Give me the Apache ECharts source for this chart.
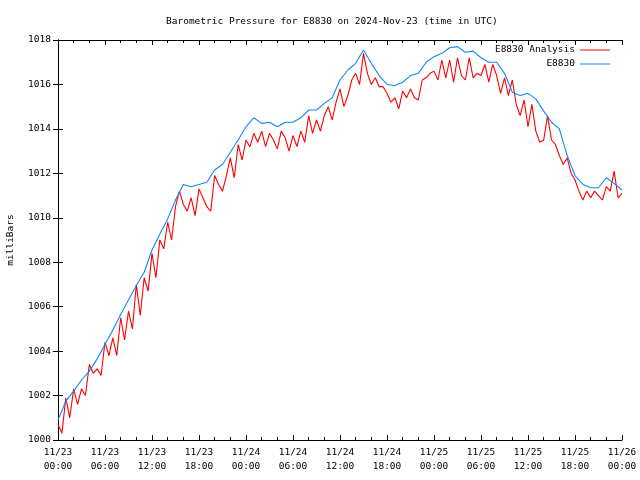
<!DOCTYPE html>
<html>
<head>
<meta charset="utf-8">
<script src="https://cdn.jsdelivr.net/npm/echarts@6/dist/echarts.min.js"></script>
<style>html,body{margin:0;padding:0;background:#fff}#c{width:640px;height:480px}</style>
</head>
<body>
<div id="c"></div>
<script>
// Hours since 2024-11-23 00:00 UTC
const xTickLabels = ['11/23\n00:00','11/23\n06:00','11/23\n12:00','11/23\n18:00','11/24\n00:00','11/24\n06:00','11/24\n12:00','11/24\n18:00','11/25\n00:00','11/25\n06:00','11/25\n12:00','11/25\n18:00','11/26\n00:00'];
const seriesNames = ['E8830 Analysis', 'E8830'];
const seriesColors = ['#ff0000', '#0f87ff'];
// E8830 station pressure, hourly samples (h = 0..72)
const stationHourly = [
 1000.9,1001.75,1002.2,1002.7,1003.1,1003.65,1004.3,1004.95,1005.65,1006.3,
 1006.95,1007.55,1008.55,1009.27,1009.95,1010.8,1011.5,1011.4,1011.5,1011.6,
 1012.15,1012.4,1012.95,1013.5,1014.1,1014.5,1014.25,1014.3,1014.1,1014.3,
 1014.3,1014.5,1014.85,1014.85,1015.15,1015.4,1016.2,1016.65,1016.95,1017.55,
 1016.95,1016.4,1016.0,1015.95,1016.1,1016.4,1016.5,1017.0,1017.25,1017.4,
 1017.65,1017.7,1017.45,1017.5,1017.2,1017.0,1017.0,1016.5,1015.65,1015.5,
 1015.6,1015.35,1014.8,1014.3,1014.0,1012.8,1011.9,1011.5,1011.35,1011.35,
 1011.8,1011.55,1011.25
];
// E8830 Analysis, half-hourly samples (h = 0..72 step 0.5)
const analysisHalfHourly = [
 1000.7,1000.3,1001.9,1001.0,1002.3,1001.6,1002.3,1002.0,1003.4,1003.0,
 1003.2,1002.9,1004.4,1003.8,1004.6,1003.8,1005.5,1004.5,1005.8,1005.0,
 1007.0,1005.6,1007.3,1006.7,1008.4,1007.3,1009.0,1008.6,1009.8,1009.0,
 1010.5,1011.2,1010.6,1010.3,1010.9,1010.1,1011.3,1010.9,1010.5,1010.3,
 1011.9,1011.5,1011.2,1011.9,1012.7,1011.8,1013.3,1012.6,1013.5,1013.2,
 1013.8,1013.4,1013.9,1013.2,1013.8,1013.5,1013.1,1013.9,1013.6,1013.0,
 1013.7,1013.2,1013.9,1013.4,1014.6,1013.8,1014.4,1013.9,1014.6,1015.0,
 1014.4,1015.2,1015.8,1015.0,1015.5,1016.2,1016.5,1016.0,1017.4,1016.5,
 1016.0,1016.3,1015.9,1015.9,1015.6,1015.2,1015.4,1014.9,1015.7,1015.4,
 1015.8,1015.4,1015.3,1016.2,1016.3,1016.5,1016.6,1016.2,1017.1,1016.3,
 1017.1,1016.1,1017.2,1016.4,1016.2,1017.2,1016.3,1016.5,1016.4,1016.9,
 1016.1,1016.9,1016.4,1015.6,1016.3,1015.5,1016.2,1015.1,1014.6,1015.3,
 1014.1,1015.1,1013.9,1013.4,1013.5,1014.6,1013.5,1013.3,1012.8,1012.4,
 1012.7,1012.0,1011.7,1011.2,1010.8,1011.2,1010.9,1011.2,1011.0,1010.8,
 1011.4,1011.2,1012.1,1010.9,1011.1
];

const stationData = stationHourly.map((v, i) => [i, v]);
const analysisData = analysisHalfHourly.map((v, i) => [i / 2, v]);

const FONT = 'DejaVu Sans Mono';
const FS = 9.5;
const LEGEND_ICON = 'path://M0,0M30,10M0,4.5H30V5.5H0Z';
const chart = echarts.init(document.getElementById('c'), null, {renderer: 'canvas'});
const baseX = {
  type: 'value', min: 0, max: 72, interval: 6,
  axisLine: {show: true, lineStyle: {color: '#000', width: 1}},
  axisTick: {show: true, inside: true, length: 5, lineStyle: {color: '#000'}},
  minorTick: {show: true, splitNumber: 3, length: 3, lineStyle: {color: '#000'}},
  splitLine: {show: false}, minorSplitLine: {show: false}
};
const baseY = {
  type: 'value', min: 1000, max: 1018, interval: 2,
  axisLine: {show: true, lineStyle: {color: '#000', width: 1}},
  axisTick: {show: true, inside: true, length: 5, lineStyle: {color: '#000'}},
  splitLine: {show: false}
};
chart.setOption({
  animation: false,
  backgroundColor: '#fff',
  title: {
    text: 'Barometric Pressure for E8830 on 2024-Nov-23 (time in UTC)',
    left: 161, top: 12,
    textStyle: {fontFamily: FONT, fontSize: FS, fontWeight: 'normal', color: '#000'}
  },
  legend: {
    orient: 'vertical', right: 25, top: 40, align: 'right',
    icon: LEGEND_ICON, itemWidth: 30, itemHeight: 10, itemGap: 4,
    itemStyle: {borderWidth: 0},
    textStyle: {fontFamily: FONT, fontSize: FS, color: '#000'},
    data: seriesNames.map((n, i) => ({name: n, itemStyle: {color: seriesColors[i], borderWidth: 0}}))
  },
  grid: {left: 58, right: 18, top: 40, bottom: 40, show: false, containLabel: false, outerBoundsMode: 'none'},
  xAxis: [
    Object.assign({}, baseX, {
      position: 'bottom',
      axisLabel: {
        show: true, fontFamily: FONT, fontSize: FS, color: '#000', margin: 6, lineHeight: 14,
        formatter: v => xTickLabels[Math.round(v / 6)]
      }
    }),
    Object.assign({}, baseX, {position: 'top', axisLabel: {show: false}})
  ],
  yAxis: [
    Object.assign({}, baseY, {
      position: 'left',
      name: 'milliBars', nameLocation: 'middle', nameGap: 42,
      nameTextStyle: {fontFamily: FONT, fontSize: FS, color: '#000'},
      axisLabel: {show: true, fontFamily: FONT, fontSize: FS, color: '#000', margin: 7,
        formatter: v => String(v)}
    }),
    Object.assign({}, baseY, {position: 'right', axisLabel: {show: false}})
  ],
  series: [
    {
      name: seriesNames[0], type: 'line', data: analysisData,
      symbol: 'none', lineStyle: {color: seriesColors[0], width: 1.1}, itemStyle: {color: seriesColors[0]}
    },
    {
      name: seriesNames[1], type: 'line', data: stationData,
      symbol: 'none', lineStyle: {color: seriesColors[1], width: 1.1}, itemStyle: {color: seriesColors[1]}
    }
  ]
});
</script>
</body>
</html>
